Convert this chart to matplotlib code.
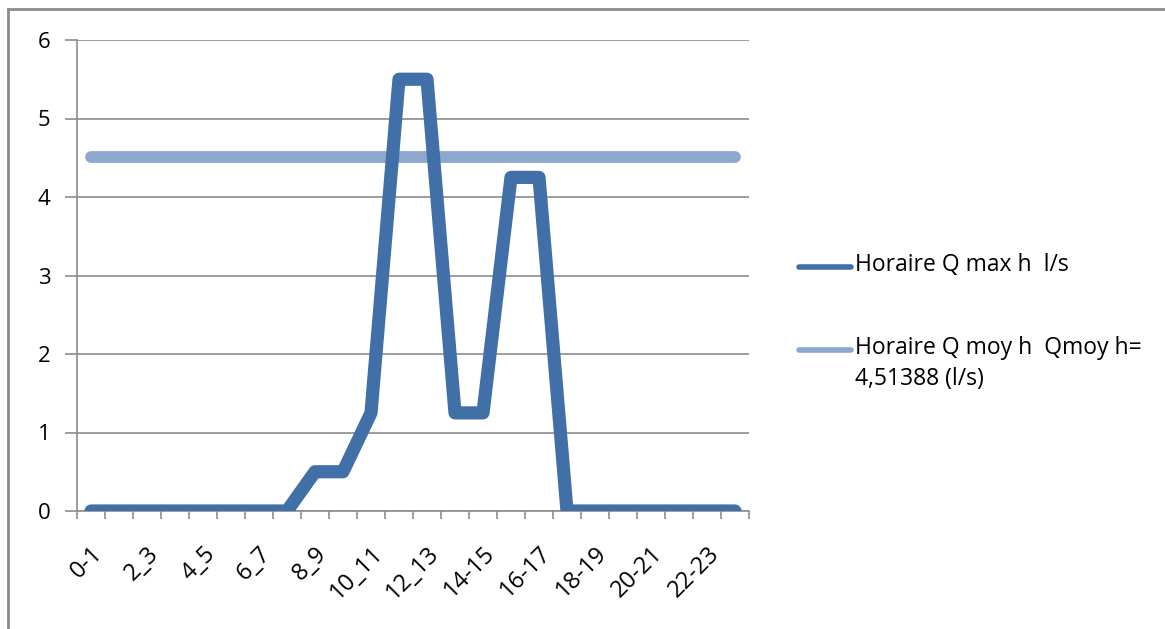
import numpy as np
import matplotlib.pyplot as plt
from matplotlib.lines import Line2D

# Données
heures = ['0-1', '1-2', '2_3', '3-4', '4_5', '5-6', '6_7', '7-8', '8_9', '9-10',
          '10_11', '11-12', '12_13', '13-14', '14-15', '15-16', '16-17', '17-18',
          '18-19', '19-20', '20-21', '21-22', '22-23', '23-24']
q_max = [0, 0, 0, 0, 0, 0, 0, 0, 0.5, 0.5, 1.25, 5.5, 5.5, 1.25, 1.25, 4.25, 4.25,
         0, 0, 0, 0, 0, 0, 0]
q_moy = 4.51388

lab_max = 'Horaire Q max h  l/s'
lab_moy = 'Horaire Q moy h  Qmoy h=\n4,51388 (l/s)'

c_max = '#4170A8'
c_moy = '#8DA7CE'
gris = '#8c8c8c'

plt.rcParams['font.family'] = ['Open Sans', 'DejaVu Sans']

W, H = 1165, 629
fig = plt.figure(figsize=(W/100, H/100), dpi=100)
ax = fig.add_axes([77/W, 1-511/H, (749-77)/W, (511-40)/H])

x = np.arange(len(heures))
ax.plot(x, q_max, color=c_max, lw=9.5, solid_joinstyle='round',
        solid_capstyle='round', zorder=3)
ax.plot(x, [q_moy]*len(x), color=c_moy, lw=8.5, solid_capstyle='round', zorder=2)

ax.set_xlim(-0.5, len(x)-0.5)
ax.set_ylim(0, 6)
ax.set_yticks(range(7))
ax.grid(axis='y', color=gris, lw=1.2)
ax.set_axisbelow(True)
for s in ['top', 'right']:
    ax.spines[s].set_visible(False)
for s in ['left', 'bottom']:
    ax.spines[s].set_color(gris)
    ax.spines[s].set_linewidth(1.2)

ax.set_xticks(x[::2])
ax.set_xticklabels(heures[::2], rotation=45, ha='right', va='top',
                   rotation_mode='anchor', fontsize=17)
ax.tick_params(axis='x', length=0, pad=22)
ax.set_xticks(np.arange(-0.5, len(x)), minor=True)
ax.tick_params(axis='x', which='minor', length=6, color=gris, width=1.2)
ax.tick_params(axis='y', length=9, color=gris, width=1.2, labelsize=16, pad=10)

# légende
for yy, c, lab in [(267, c_max, lab_max), (350, c_moy, lab_moy)]:
    fig.add_artist(Line2D([799/W, 851/W], [1-yy/H, 1-yy/H], color=c, lw=4,
                          solid_capstyle='round'))
    fig.text(855/W, 1-(yy-14)/H, lab, fontsize=16.5, va='top', ha='left',
             linespacing=1.4)

# cadre
fig.add_artist(Line2D([8/W, 1], [1-9/H, 1-9/H], color=gris, lw=2))
fig.add_artist(Line2D([8/W, 8/W], [0, 1-9/H], color=gris, lw=2))

fig.savefig('out.png', dpi=100)
